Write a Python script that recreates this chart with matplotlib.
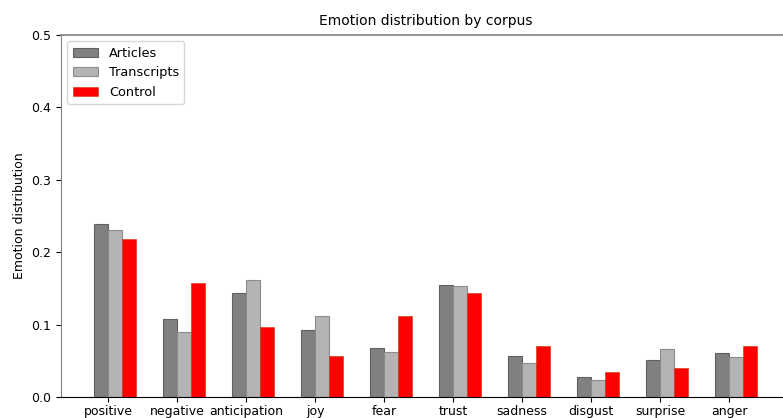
import numpy as np
import matplotlib
matplotlib.use("Agg")
import matplotlib.pyplot as plt

# Emotie-categorieen en waarden per corpus
emoties = ["positive", "negative", "anticipation", "joy", "fear",
           "trust", "sadness", "disgust", "surprise", "anger"]
articles = [0.239, 0.108, 0.144, 0.092, 0.068, 0.155, 0.057, 0.027, 0.051, 0.061]
transcripts = [0.231, 0.090, 0.161, 0.112, 0.062, 0.153, 0.047, 0.024, 0.066, 0.055]
control = [0.218, 0.158, 0.096, 0.057, 0.112, 0.143, 0.071, 0.035, 0.040, 0.070]

fig = plt.figure(figsize=(7.83, 4.18), dpi=100)
# assen lopen rechts iets buiten het beeld, net als in het origineel
ax = fig.add_axes([61 / 783, 21 / 418, 729 / 783, 362 / 418])

x = np.arange(len(emoties))
w = 0.2
ax.bar(x - w / 2, articles, w, color="#808080", edgecolor="#5f5f5f", linewidth=0.8, label="Articles")
ax.bar(x + w / 2, transcripts, w, color="#b4b4b4", edgecolor="#8c8c8c", linewidth=0.8, label="Transcripts")
ax.bar(x + 1.5 * w, control, w, color="red", edgecolor="#d04020", linewidth=0.5, label="Control")

ax.set_xticks(x)
ax.set_xticklabels(emoties, fontsize=9)
ax.tick_params(axis="x", pad=2.5)
ax.set_ylim(0, 0.5)
ax.set_yticks([0.0, 0.1, 0.2, 0.3, 0.4, 0.5])
ax.tick_params(axis="y", labelsize=9)
ax.set_ylabel("Emotion distribution", fontsize=9)
ax.set_title("Emotion distribution by corpus", fontsize=10, pad=7)

ax.spines["left"].set_color("#808080")
ax.spines["top"].set_color("#808080")
ax.spines["top"].set_linewidth(1.2)
ax.spines["right"].set_visible(False)
ax.spines["bottom"].set_color("black")

ax.legend(loc="upper left", fontsize=9.3)

fig.savefig("out.png", dpi=100)
